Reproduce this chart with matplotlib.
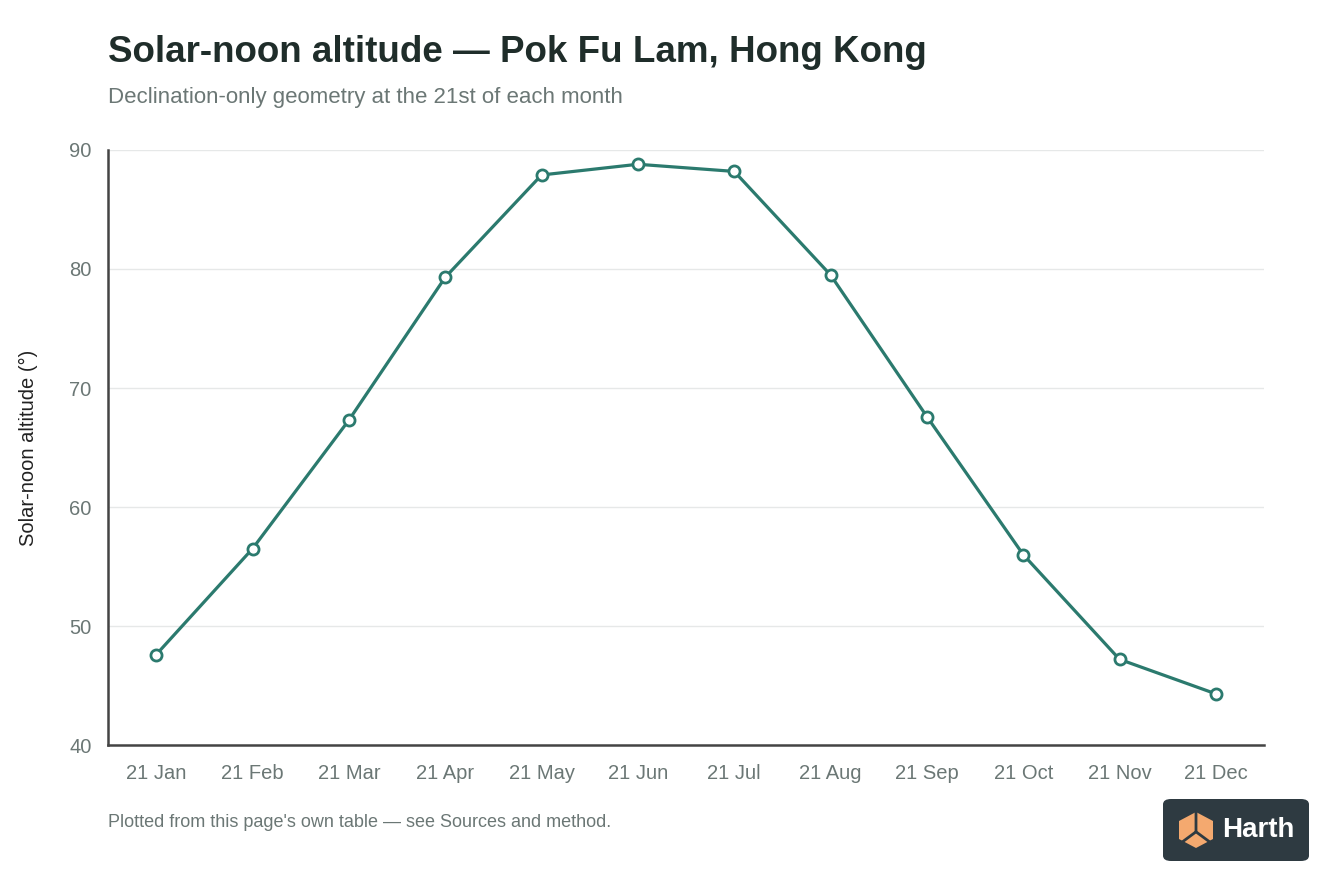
import matplotlib.pyplot as plt
from matplotlib.patches import FancyBboxPatch, Polygon

plt.rcParams['font.family'] = ['Liberation Sans', 'DejaVu Sans']

months = ['21 Jan', '21 Feb', '21 Mar', '21 Apr', '21 May', '21 Jun',
          '21 Jul', '21 Aug', '21 Sep', '21 Oct', '21 Nov', '21 Dec']
altitude = [47.6, 56.5, 67.3, 79.3, 87.9, 88.8, 88.2, 79.5, 67.6, 56.0, 47.2, 44.3]
yticks = [40, 50, 60, 70, 80, 90]

line_color = '#2b7a6e'
grey = '#6b7775'

fig = plt.figure(figsize=(13.44, 8.96), dpi=100)
ax = fig.add_axes([0.0804, 0.1685, 0.8601, 0.6641])

x = list(range(len(months)))
ax.plot(x, altitude, color=line_color, lw=2.3, marker='o', ms=8,
        mfc='white', mec=line_color, mew=2, zorder=3)

ax.set_xlim(-0.5, 11.5)
ax.set_ylim(40, 90)
ax.set_xticks(x)
ax.set_xticklabels(months)
ax.set_yticks(yticks)
ax.tick_params(length=0, labelsize=14.5, colors=grey)
ax.tick_params(axis='x', pad=14)
ax.tick_params(axis='y', pad=12)
ax.grid(axis='y', color='#e6e8e8', lw=1)
ax.set_axisbelow(True)
for s in ['top', 'right']:
    ax.spines[s].set_visible(False)
for s in ['left', 'bottom']:
    ax.spines[s].set_color('#444444')
    ax.spines[s].set_linewidth(1.8)
ax.set_ylabel('Solar-noon altitude (°)', fontsize=14.5, color='#222222', labelpad=22)

fig.text(108 / 1344, 1 - 53 / 896, 'Solar-noon altitude — Pok Fu Lam, Hong Kong',
         fontsize=26.5, fontweight='bold', color='#1f2d2a', va='center')
fig.text(108 / 1344, 1 - 97 / 896, 'Declination-only geometry at the 21st of each month',
         fontsize=16, color=grey, va='center')
fig.text(108 / 1344, 1 - 822 / 896, "Plotted from this page's own table — see Sources and method.",
         fontsize=13, color=grey, va='center')

# logo badge
bx, by, bw, bh = 1163 / 1344, 1 - 861 / 896, 146 / 1344, 62 / 896
fig.patches.append(FancyBboxPatch((bx, by), bw, bh, boxstyle='round,pad=0,rounding_size=0.006',
                                  transform=fig.transFigure, fc='#2e3a41', ec='none'))
cx, cy = 1196 / 1344, 1 - 830 / 896
w, h = 17 / 1344, 18 / 896
fig.patches.append(Polygon([(cx - w, cy + h * 0.5), (cx, cy + h), (cx + w, cy + h * 0.5),
                            (cx + w, cy - h * 0.5), (cx, cy - h), (cx - w, cy - h * 0.5)],
                           closed=True, transform=fig.transFigure, fc='#f4a96f', ec='none'))
fig.lines.append(plt.Line2D([cx, cx, cx - w], [cy + h, cy - h * 0.1, cy - h * 0.8],
                            transform=fig.transFigure, color='#2e3a41', lw=2))
fig.lines.append(plt.Line2D([cx, cx + w], [cy - h * 0.1, cy - h * 0.8],
                            transform=fig.transFigure, color='#2e3a41', lw=2))
fig.text(1222 / 1344, cy, 'Harth', fontsize=20, fontweight='bold', color='white', va='center')

fig.savefig('out.png', dpi=100, facecolor='white')
